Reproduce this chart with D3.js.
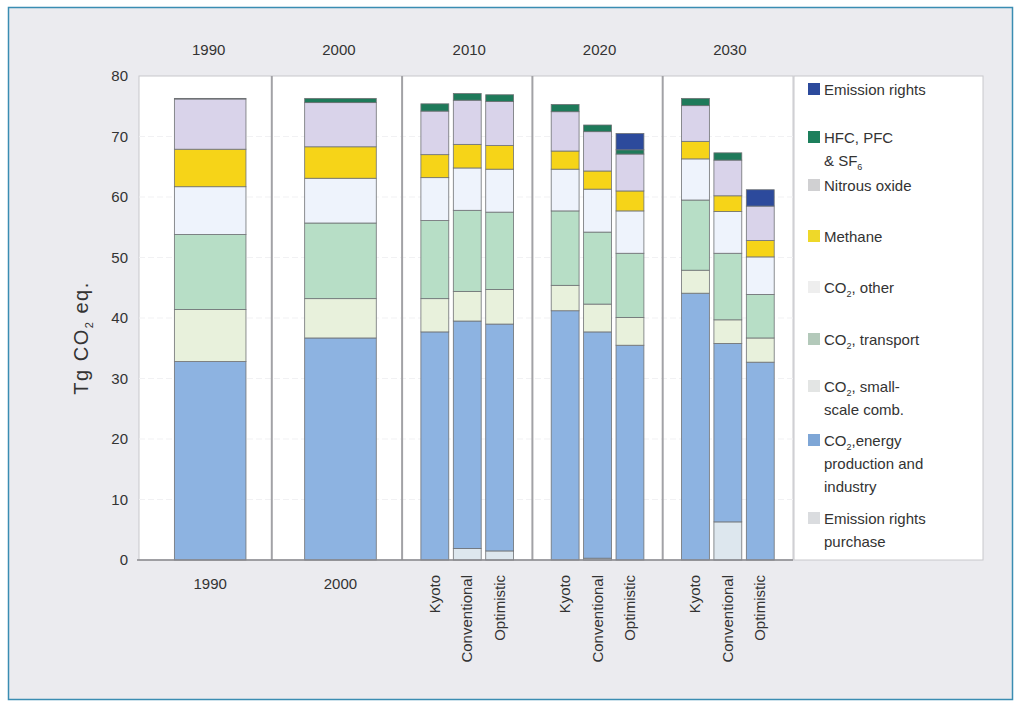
<!DOCTYPE html>
<html>
<head>
<meta charset="utf-8">
<script src="https://cdn.jsdelivr.net/npm/d3@7"></script>
<style>
  body { margin: 0; background: #fff; }
  svg { display: block; font-family: "Liberation Sans", Arial, sans-serif; }
</style>
</head>
<body>
<svg id="chart"></svg>
<script>
// bars, left to right
const barGroup    = ["1990", "2000", "2010", "2010", "2010", "2020", "2020", "2020", "2030", "2030", "2030"];
const barScenario = ["", "", "Kyoto", "Conventional", "Optimistic", "Kyoto", "Conventional", "Optimistic", "Kyoto", "Conventional", "Optimistic"];
const groups = ["1990", "2000", "2010", "2020", "2030"];
const scenarios = ["Kyoto", "Conventional", "Optimistic"];

// layers, bottom to top (Tg CO2 eq.)
const purchase  = [0,    0,    0,    1.9,  1.5,  0,    0.3,  0,    0,    6.3,  0];
const energy    = [32.8, 36.7, 37.7, 37.6, 37.5, 41.2, 37.4, 35.5, 44.1, 29.5, 32.7];
const smallComb = [8.6,  6.5,  5.5,  4.9,  5.7,  4.2,  4.6,  4.6,  3.8,  3.9,  4.0];
const transport = [12.4, 12.5, 12.9, 13.4, 12.8, 12.3, 11.9, 10.6, 11.6, 11.0, 7.2];
const co2Other  = [7.9,  7.4,  7.1,  7.0,  7.1,  6.9,  7.1,  7.0,  6.8,  6.9,  6.2];
const methane   = [6.2,  5.2,  3.8,  3.9,  3.9,  3.0,  3.0,  3.3,  2.9,  2.6,  2.7];
const nitrous   = [8.3,  7.3,  7.2,  7.3,  7.3,  6.5,  6.5,  6.1,  5.9,  5.9,  5.7];
const hfc       = [0.1,  0.7,  1.2,  1.1,  1.1,  1.2,  1.1,  0.7,  1.2,  1.2,  0];
const rights    = [0,    0,    0,    0,    0,    0,    0,    2.7,  0,    0,    2.7];

const yTicks = [0, 10, 20, 30, 40, 50, 60, 70, 80];

const layers = [
  {key: "purchase",  values: purchase,  fill: "#dde7ee", swatch: "#dadcdf"},
  {key: "energy",    values: energy,    fill: "#8db3e1", swatch: "#7ea6d6"},
  {key: "smallComb", values: smallComb, fill: "#e8f1dc", swatch: "#e3e5e4"},
  {key: "transport", values: transport, fill: "#b7dec6", swatch: "#b3c9ba"},
  {key: "co2Other",  values: co2Other,  fill: "#eef3fc", swatch: "#eeeeee"},
  {key: "methane",   values: methane,   fill: "#f6d418", swatch: "#eed829"},
  {key: "nitrous",   values: nitrous,   fill: "#d9d3ea", swatch: "#d0d0d2"},
  {key: "hfc",       values: hfc,       fill: "#1e7a5a", swatch: "#1c7f5c"},
  {key: "rights",    values: rights,    fill: "#2c4a9c", swatch: "#2c4a9c"}
];

// legend, top to bottom; "_" marks subscript
const legendItems = [
  {key: "rights",    lines: ["Emission rights"]},
  {key: "hfc",       lines: ["HFC, PFC", "& SF_6"]},
  {key: "nitrous",   lines: ["Nitrous oxide"]},
  {key: "methane",   lines: ["Methane"]},
  {key: "co2Other",  lines: ["CO_2, other"]},
  {key: "transport", lines: ["CO_2,  transport"]},
  {key: "smallComb", lines: ["CO_2, small-", "scale comb."]},
  {key: "energy",    lines: ["CO_2,energy", "production and", "industry"]},
  {key: "purchase",  lines: ["Emission rights", "purchase"]}
];
const legendY = [90, 138, 186, 237, 288, 340, 387, 441, 519];

const width = 1021, height = 706;
const plot = {left: 141.5, right: 793, top: 76, bottom: 560};
const svg = d3.select("#chart").attr("width", width).attr("height", height);

// outer frame
svg.append("rect")
  .attr("x", 8.5).attr("y", 7.5).attr("width", 1004).attr("height", 692)
  .attr("fill", "#ebebef").attr("stroke", "#3a8db2").attr("stroke-width", 1.5);

// plot panel
svg.append("rect")
  .attr("x", 139).attr("y", plot.top)
  .attr("width", plot.right - 139).attr("height", plot.bottom - plot.top)
  .attr("fill", "#fff").attr("stroke", "#c8c8cc");

// legend panel
svg.append("rect")
  .attr("x", 794).attr("y", plot.top).attr("width", 189).attr("height", plot.bottom - plot.top)
  .attr("fill", "#fff").attr("stroke", "#c8c8cc");

const y = d3.scaleLinear().domain([0, 80]).range([plot.bottom, plot.top]);

const xGroup = d3.scaleBand().domain(groups).range([plot.left, plot.right]);
const xScen = d3.scaleBand().domain(scenarios)
  .range([0, xGroup.bandwidth()]).paddingInner(0.14).paddingOuter(0.58);
const xSingle = d3.scaleBand().domain([""])
  .range([0, xGroup.bandwidth()]).paddingOuter(0.41).align(0.56);

function barX(i) {
  const g = xGroup(barGroup[i]);
  return barScenario[i] === "" ? g + xSingle("") : g + xScen(barScenario[i]);
}
function barW(i) {
  return barScenario[i] === "" ? xSingle.bandwidth() : xScen.bandwidth();
}

// faint grid
svg.append("g").selectAll("line")
  .data(yTicks.slice(1, -1))
  .join("line")
  .attr("x1", 139).attr("x2", plot.right)
  .attr("y1", d => y(d)).attr("y2", d => y(d))
  .attr("stroke", "#f1f1f3").attr("stroke-dasharray", "6,3");

// group separators
svg.append("g").selectAll("line")
  .data(groups.slice(1))
  .join("line")
  .attr("x1", d => xGroup(d)).attr("x2", d => xGroup(d))
  .attr("y1", plot.top).attr("y2", plot.bottom)
  .attr("stroke", "#a2a2a6").attr("stroke-width", 2);

// stacked bars
const rows = barGroup.map((g, i) => {
  const r = {i: i};
  layers.forEach(l => r[l.key] = l.values[i]);
  return r;
});
const stacked = d3.stack().keys(layers.map(l => l.key))(rows);
const fillOf = Object.fromEntries(layers.map(l => [l.key, l.fill]));

svg.append("g").selectAll("g")
  .data(stacked)
  .join("g")
  .attr("fill", d => fillOf[d.key])
  .selectAll("rect")
  .data(d => d.filter(p => p[1] - p[0] > 0))
  .join("rect")
  .attr("x", p => barX(p.data.i))
  .attr("width", p => barW(p.data.i))
  .attr("y", p => y(p[1]))
  .attr("height", p => y(p[0]) - y(p[1]))
  .attr("stroke", "#6f7275").attr("stroke-width", 0.8);

// bottom axis line
svg.append("line")
  .attr("x1", 137).attr("x2", plot.right)
  .attr("y1", plot.bottom).attr("y2", plot.bottom)
  .attr("stroke", "#8a8a8e").attr("stroke-width", 1.5);

// y axis
const yAxis = svg.append("g")
  .attr("transform", "translate(139,0)")
  .call(d3.axisLeft(y).tickValues(yTicks).tickSize(0).tickPadding(11));
yAxis.select(".domain").remove();
yAxis.selectAll("text").attr("font-size", 15).attr("fill", "#333")
  .attr("font-family", "Liberation Sans, Arial, sans-serif");

// y axis title
const yTitle = svg.append("text")
  .attr("transform", "translate(88,338) rotate(-90)")
  .attr("text-anchor", "middle").attr("font-size", 20).attr("fill", "#333")
  .attr("letter-spacing", 1.5);
yTitle.append("tspan").text("Tg CO");
yTitle.append("tspan").text("2").attr("font-size", 11).attr("dy", 5);
yTitle.append("tspan").text("  eq.").attr("dy", -5);

// group labels on top
svg.append("g").selectAll("text")
  .data(groups)
  .join("text")
  .attr("x", d => xGroup(d) + xGroup.bandwidth() / 2 + 2)
  .attr("y", 55)
  .attr("text-anchor", "middle").attr("font-size", 15).attr("fill", "#333")
  .text(d => d);

// bottom labels
svg.append("g").selectAll("text")
  .data(barGroup.map((g, i) => i))
  .join("text")
  .attr("font-size", 15).attr("fill", "#333")
  .each(function(i) {
    const cx = barX(i) + barW(i) / 2;
    const t = d3.select(this);
    if (barScenario[i] === "") {
      t.attr("x", cx).attr("y", 589).attr("text-anchor", "middle").text(barGroup[i]);
    } else {
      t.attr("transform", `translate(${cx + 5},${plot.bottom + 15}) rotate(-90)`)
        .attr("text-anchor", "end").text(barScenario[i]);
    }
  });

// legend
const swatchOf = Object.fromEntries(layers.map(l => [l.key, l.swatch]));
const leg = svg.append("g").selectAll("g")
  .data(legendItems)
  .join("g")
  .attr("transform", (d, i) => `translate(808,${legendY[i]})`);

leg.append("rect")
  .attr("x", 0).attr("y", -7).attr("width", 12).attr("height", 12)
  .attr("fill", d => swatchOf[d.key]);

leg.each(function(d) {
  const g = d3.select(this);
  d.lines.forEach((line, j) => {
    const t = g.append("text")
      .attr("x", 16).attr("y", 5 + j * 23)
      .attr("font-size", 15).attr("fill", "#333");
    const parts = line.split("_");
    t.append("tspan").text(parts[0]);
    if (parts.length > 1) {
      t.append("tspan").text(parts[1][0]).attr("font-size", 9).attr("dy", 4);
      t.append("tspan").text(parts[1].slice(1)).attr("dy", -4);
    }
  });
});
</script>
</body>
</html>
